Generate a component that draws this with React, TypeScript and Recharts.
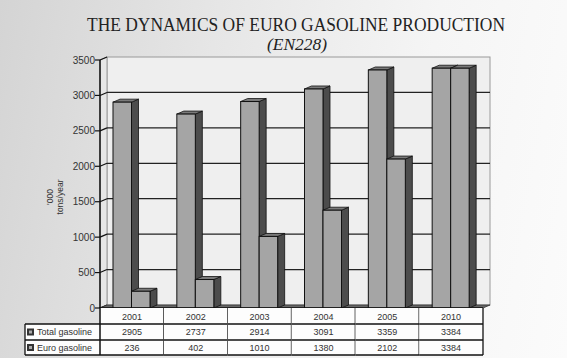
import React from 'react';
import { BarChart, Bar, XAxis, YAxis, ReferenceArea } from 'recharts';

const categories = ['2001', '2002', '2003', '2004', '2005', '2010'];
const totalGasoline = [2905, 2737, 2914, 3091, 3359, 3384];
const euroGasoline = [236, 402, 1010, 1380, 2102, 3384];
const seriesNames = ['Total gasoline', 'Euro gasoline'];
const yTicks = [0, 500, 1000, 1500, 2000, 2500, 3000, 3500];
const titleText = 'THE DYNAMICS OF EURO GASOLINE PRODUCTION';
const subtitleText = '(EN228)';
const yLabelLines = ["'000", 'tons/year'];

const data = categories.map((c, i) => ({ year: c, total: totalGasoline[i], euro: euroGasoline[i] }));
const seriesValues = [totalGasoline, euroGasoline];
const Y_MAX = yTicks[yTicks.length - 1];

const W = 567;
const H = 358;
const M = { top: 60, right: 84, bottom: 0, left: 40 };
const YAXIS_W = 60;
const XAXIS_H = 50;
const PLOT_W = W - M.left - YAXIS_W - M.right;
const DX = 7;
const DY = 3;
const FONT = '"Liberation Sans", Arial, sans-serif';
const SERIF = '"Liberation Serif", "Times New Roman", serif';

const Bar3D = (props: any) => {
  const { x, y, width, height } = props;
  if (x == null || width == null) return null;
  const b = y + height;
  return (
    <g>
      <polygon
        points={`${x + width},${y} ${x + width + DX},${y - DY} ${x + width + DX},${b - DY} ${x + width},${b}`}
        fill="#4c4c4c" stroke="#111" strokeWidth={0.8} />
      <polygon
        points={`${x},${y} ${x + DX},${y - DY} ${x + width + DX},${y - DY} ${x + width},${y}`}
        fill="#7a7a7a" stroke="#111" strokeWidth={0.8} />
      <rect x={x} y={y} width={width} height={height} fill="#a5a5a5" stroke="#111" strokeWidth={1} />
    </g>
  );
};

const Wall = (props: any) => {
  const { x, y, width, height } = props;
  const b = y + height;
  const inner = yTicks.filter((t) => t > 0 && t < Y_MAX);
  return (
    <g>
      <rect x={x + DX} y={y - DY} width={width} height={height} fill="#efefef" stroke="#9a9a9a" strokeWidth={1} />
      <polygon points={`${x},${y} ${x + DX},${y - DY} ${x + DX},${b - DY} ${x},${b}`} fill="#e6e6e6" stroke="#9a9a9a" strokeWidth={1} />
      {inner.map((t) => {
        const yy = y + height * (1 - t / Y_MAX);
        return (
          <line key={t} x1={x + DX} y1={yy - DY} x2={x + width + DX} y2={yy - DY} stroke="#222" strokeWidth={1.2} />
        );
      })}
      {yTicks.map((t) => {
        const yy = y + height * (1 - t / Y_MAX);
        return <line key={'c' + t} x1={x} y1={yy} x2={x + DX} y2={yy - DY} stroke="#111" strokeWidth={1.2} />;
      })}
      <polygon points={`${x},${b} ${x + DX},${b - DY} ${x + width + DX},${b - DY} ${x + width},${b}`} fill="#666" stroke="#333" strokeWidth={0.8} />
    </g>
  );
};

const YTick = (props: any) => {
  const { x, y, payload } = props;
  return (
    <text x={x} y={y + 3.5} textAnchor="end" fontFamily={FONT} fontSize={10} fill="#333">
      {payload.value}
    </text>
  );
};

const TableTick = (props: any) => {
  const { x, y, payload, index } = props;
  const bw = PLOT_W / categories.length;
  const left = x - bw / 2;
  const right = x + bw / 2;
  const r1 = y + 16;
  const r2 = y + 32;
  const r3 = y + 47;
  const legendLeft = left - 75;
  return (
    <g>
      {index === 0 && (
        <g>
          <rect x={legendLeft} y={r1} width={75} height={r3 - r1} fill="#fdfdfd" />
          <line x1={legendLeft} y1={r1} x2={left} y2={r1} stroke="#111" strokeWidth={1.3} />
          <line x1={legendLeft} y1={r2} x2={left} y2={r2} stroke="#111" strokeWidth={1.3} />
          <line x1={legendLeft} y1={r3} x2={left} y2={r3} stroke="#111" strokeWidth={1.3} />
          <line x1={legendLeft} y1={r1} x2={legendLeft} y2={r3} stroke="#111" strokeWidth={1.3} />
          {seriesNames.map((n, i) => {
            const cy = i === 0 ? (r1 + r2) / 2 : (r2 + r3) / 2;
            return (
              <g key={n}>
                <rect x={legendLeft + 2} y={cy - 3.5} width={7} height={7} fill="#333" />
                <rect x={legendLeft + 4} y={cy - 1.5} width={3} height={3} fill="#aaa" />
                <text x={legendLeft + 12} y={cy + 3.2} fontFamily={FONT} fontSize={9} fill="#333">{n}</text>
              </g>
            );
          })}
        </g>
      )}
      <rect x={left} y={y} width={bw} height={r3 - y} fill="#fdfdfd" />
      <line x1={left} y1={r1} x2={right} y2={r1} stroke="#111" strokeWidth={1.3} />
      <line x1={left} y1={r2} x2={right} y2={r2} stroke="#111" strokeWidth={1.3} />
      <line x1={left} y1={r3} x2={right} y2={r3} stroke="#111" strokeWidth={1.3} />
      <line x1={right} y1={y} x2={right} y2={r3} stroke="#111" strokeWidth={1.3} />
      {index === 0 && <line x1={left} y1={y - 1} x2={left} y2={r3} stroke="#111" strokeWidth={1.5} />}
      <text x={x} y={y + 11.5} textAnchor="middle" fontFamily={FONT} fontSize={9} fill="#333">{payload.value}</text>
      {seriesValues.map((vals, i) => (
        <text key={i} x={x} y={(i === 0 ? r1 + r2 : r2 + r3) / 2 + 3.2} textAnchor="middle" fontFamily={FONT} fontSize={9} fill="#333">
          {vals[index]}
        </text>
      ))}
    </g>
  );
};

const YLabel = () => (
  <g>
    {yLabelLines.map((t, i) => {
      const cx = 50 + i * 10;
      const cy = 197;
      return (
        <text key={t} x={cx + 3} y={cy} transform={`rotate(-90, ${cx + 3}, ${cy})`} textAnchor="middle"
          fontFamily={FONT} fontSize={8.5} fill="#333">{t}</text>
      );
    })}
  </g>
);

export default function App() {
  return (
    <div style={{
      position: 'absolute', left: 0, top: 0, width: W, height: H, overflow: 'hidden',
      background: 'linear-gradient(100deg, #d4d4d4 0%, #e6e6e6 35%, #f5f5f5 70%, #fbfbfb 100%)',
    }}>
      <svg width={W} height={60} style={{ position: 'absolute', left: 0, top: 0 }}>
        <text x={296} y={31} textAnchor="middle" fontFamily={SERIF} fontSize={19} fill="#222"
          textLength={418} lengthAdjust="spacingAndGlyphs">{titleText}</text>
        <text x={297} y={50} textAnchor="middle" fontFamily={SERIF} fontStyle="italic" fontSize={17} fill="#222"
          textLength={60} lengthAdjust="spacingAndGlyphs">{subtitleText}</text>
      </svg>
      <div style={{ position: 'absolute', left: 0, top: 0 }}>
        <BarChart width={W} height={H} data={data} margin={M} barGap={0} barSize={18.5}>
          <ReferenceArea y1={0} y2={Y_MAX} shape={<Wall />} ifOverflow="visible" />
          <XAxis dataKey="year" height={XAXIS_H} interval={0} tickLine={false} tickSize={0} tickMargin={0}
            axisLine={{ stroke: '#111', strokeWidth: 1.5 }} tick={<TableTick />} />
          <YAxis width={YAXIS_W} domain={[0, Y_MAX]} ticks={yTicks} tickSize={5} tickMargin={0} interval={0}
            axisLine={{ stroke: '#111', strokeWidth: 1.5 }} tickLine={{ stroke: '#111', strokeWidth: 1.2 }}
            tick={<YTick />} label={<YLabel />} />
          <Bar dataKey="total" name={seriesNames[0]} shape={<Bar3D />} isAnimationActive={false} />
          <Bar dataKey="euro" name={seriesNames[1]} shape={<Bar3D />} isAnimationActive={false} />
        </BarChart>
      </div>
    </div>
  );
}
